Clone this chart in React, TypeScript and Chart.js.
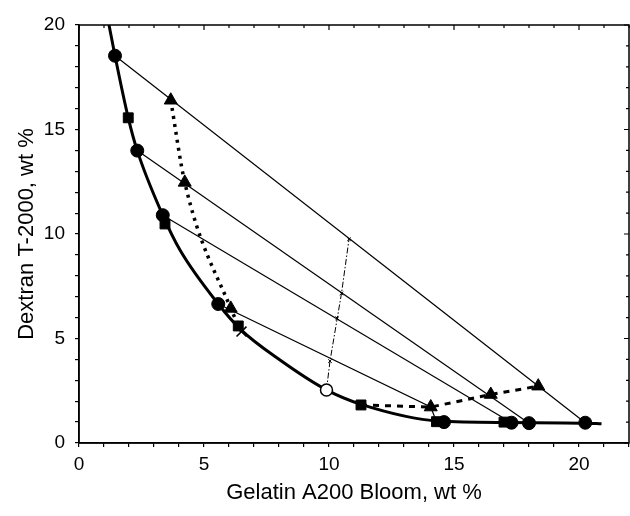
import React, { useEffect, useRef } from "react";
import { Chart, registerables } from "chart.js";

Chart.register(...registerables);

// Axis settings
const xMin = 0;
const xMax = 22;
const yMin = 0;
const yMax = 20;
const xTitle = "Gelatin A200 Bloom, wt %";
const yTitle = "Dextran T-2000, wt %";

// Binodal (thick solid curve)
const binodalX = [1.2, 1.44, 1.97, 2.33, 3.35, 4.04, 5.57, 6.45, 8.04, 9.9, 11.28, 14.4, 17.2, 20.27, 20.9];
const binodalY = [20, 18.53, 15.56, 13.99, 10.9, 9.23, 6.65, 5.45, 3.97, 2.54, 1.85, 1.05, 0.98, 0.95, 0.92];

// Filled circles
const circleX = [1.44, 2.33, 3.35, 5.57, 14.6, 17.3, 18.0, 20.25];
const circleY = [18.53, 13.99, 10.9, 6.65, 1.0, 0.97, 0.95, 0.97];

// Filled squares
const squareX = [1.97, 3.44, 6.37, 11.28, 14.3, 17.0];
const squareY = [15.56, 10.48, 5.6, 1.82, 1.02, 1.0];

// Triangles
const triangleX = [3.67, 4.23, 6.07, 14.07, 16.47, 18.37];
const triangleY = [16.4, 12.47, 6.44, 1.72, 2.32, 2.72];

// Open circle and cross
const openX = [9.9];
const openY = [2.54];
const crossX = [6.5];
const crossY = [5.33];

// Dotted branch (left) and dashed branch (right)
const dottedX = [3.67, 4.23, 6.07, 6.5];
const dottedY = [16.4, 12.47, 6.44, 5.33];
const dashedX = [11.28, 14.07, 16.47, 18.37];
const dashedY = [1.82, 1.72, 2.32, 2.72];

// Rectilinear diameter (dash-dot) with midpoints
const diamX = [9.9, 10.04, 10.33, 10.5, 10.8];
const diamY = [2.54, 3.92, 5.97, 7.16, 9.75];

// Tie lines
const tie1X = [1.44, 20.25];
const tie1Y = [18.53, 0.97];
const tie2X = [2.33, 18.0];
const tie2Y = [13.99, 0.95];
const tie3X = [3.35, 17.3];
const tie3Y = [10.9, 0.97];
const tie4X = [5.57, 14.07, 14.3];
const tie4Y = [6.65, 1.72, 1.02];

const pts = (xs: number[], ys: number[]) => xs.map((x, i) => ({ x, y: ys[i] }));

const FONT = "'Liberation Sans', Arial, Helvetica, sans-serif";

const framePlugin = {
  id: "frame",
  afterDraw(chart: any) {
    const { ctx, chartArea: a, scales } = chart;
    ctx.save();
    ctx.strokeStyle = "#000";
    ctx.lineWidth = 1.5;
    ctx.strokeRect(a.left, a.top, a.right - a.left, a.bottom - a.top);
    ctx.lineWidth = 1.2;
    ctx.beginPath();
    scales.x.ticks.forEach((t: any) => {
      const px = scales.x.getPixelForValue(t.value);
      const len = t.value % 5 === 0 ? 5 : 3;
      ctx.moveTo(px, a.top);
      ctx.lineTo(px, a.top + len);
    });
    scales.y.ticks.forEach((t: any) => {
      const py = scales.y.getPixelForValue(t.value);
      const len = t.value % 5 === 0 ? 5 : 3;
      ctx.moveTo(a.right, py);
      ctx.lineTo(a.right - len, py);
    });
    ctx.stroke();
    ctx.restore();
  },
};

export default function App() {
  const ref = useRef<HTMLCanvasElement | null>(null);

  useEffect(() => {
    if (!ref.current) return;
    const black = "#000";
    const tie = (xs: number[], ys: number[]) => ({
      data: pts(xs, ys),
      showLine: true,
      borderColor: black,
      borderWidth: 1.2,
      pointRadius: 0,
      fill: false,
    });
    const chart = new Chart(ref.current, {
      type: "scatter",
      data: {
        datasets: [
          {
            data: pts(openX, openY),
            pointStyle: "circle",
            pointRadius: 6,
            backgroundColor: "#fff",
            borderColor: black,
            borderWidth: 1.5,
          },
          {
            data: pts(crossX, crossY),
            pointStyle: "crossRot",
            pointRadius: 7,
            borderColor: black,
            borderWidth: 1.6,
          },
          {
            data: pts(triangleX, triangleY),
            pointStyle: "triangle",
            pointRadius: 7.5,
            backgroundColor: black,
            borderColor: black,
            borderWidth: 1,
          },
          {
            data: pts(squareX, squareY),
            pointStyle: "rect",
            pointRadius: 7,
            backgroundColor: black,
            borderColor: black,
            borderWidth: 1,
          },
          {
            data: pts(circleX, circleY),
            pointStyle: "circle",
            pointRadius: 6.5,
            backgroundColor: black,
            borderColor: black,
            borderWidth: 1,
          },
          {
            data: pts(binodalX, binodalY),
            showLine: true,
            cubicInterpolationMode: "monotone",
            borderColor: black,
            borderWidth: 3,
            pointRadius: 0,
            fill: false,
          },
          {
            data: pts(dottedX, dottedY),
            showLine: true,
            cubicInterpolationMode: "monotone",
            borderColor: black,
            borderWidth: 3.5,
            borderDash: [3, 5],
            pointRadius: 0,
            fill: false,
          },
          {
            data: pts(dashedX, dashedY),
            showLine: true,
            borderColor: black,
            borderWidth: 3,
            borderDash: [6, 6],
            pointRadius: 0,
            fill: false,
          },
          {
            data: pts(diamX, diamY),
            showLine: true,
            borderColor: black,
            borderWidth: 1,
            borderDash: [6, 2, 1.5, 2],
            pointStyle: "crossRot",
            pointRadius: 2.5,
            pointBorderColor: black,
            pointBorderWidth: 1,
            fill: false,
          },
          tie(tie1X, tie1Y),
          tie(tie2X, tie2Y),
          tie(tie3X, tie3Y),
          tie(tie4X, tie4Y),
        ],
      },
      options: {
        animation: false,
        responsive: false,
        maintainAspectRatio: false,
        devicePixelRatio: 1,
        layout: { autoPadding: false, padding: { left: 0, right: 1, top: 25, bottom: 0 } },
        plugins: {
          legend: { display: false },
          tooltip: { enabled: false },
        },
        scales: {
          x: {
            type: "linear",
            min: xMin,
            max: xMax,
            afterFit: (s: any) => {
              s.height = 73;
              s.paddingLeft = 0;
              s.paddingRight = 0;
            },
            border: { display: true, color: black, width: 1.5 },
            grid: {
              display: true,
              drawOnChartArea: false,
              drawTicks: true,
              tickLength: 4,
              color: black,
              lineWidth: 1.2,
            },
            ticks: {
              stepSize: 1,
              autoSkip: false,
              maxRotation: 0,
              padding: 6,
              color: black,
              font: { family: FONT, size: 19 },
              callback: (v: any) => (Number(v) % 5 === 0 ? String(v) : ""),
            },
            title: {
              display: true,
              text: xTitle,
              color: black,
              font: { family: FONT, size: 22 },
              padding: { top: 0, bottom: 10 },
            },
          },
          y: {
            type: "linear",
            min: yMin,
            max: yMax,
            afterFit: (s: any) => {
              s.width = 79;
              s.paddingTop = 0;
              s.paddingBottom = 0;
            },
            border: { display: true, color: black, width: 1.5 },
            grid: {
              display: true,
              drawOnChartArea: false,
              drawTicks: true,
              tickLength: 4,
              color: black,
              lineWidth: 1.2,
            },
            ticks: {
              stepSize: 1,
              autoSkip: false,
              padding: 10,
              color: black,
              font: { family: FONT, size: 19 },
              callback: (v: any) => (Number(v) % 5 === 0 ? String(v) : ""),
            },
            title: {
              display: true,
              text: yTitle,
              color: black,
              font: { family: FONT, size: 22 },
              padding: { top: 14, bottom: 0 },
            },
          },
        },
      },
      plugins: [framePlugin],
    } as any);
    return () => chart.destroy();
  }, []);

  return (
    <div style={{ position: "fixed", left: 0, top: 0, width: 630, height: 516, background: "#fff" }}>
      <canvas ref={ref} width={630} height={516} style={{ display: "block", width: 630, height: 516 }} />
    </div>
  );
}
